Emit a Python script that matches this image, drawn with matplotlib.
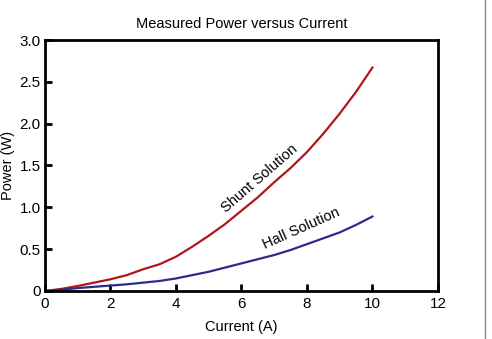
import matplotlib.pyplot as plt
from matplotlib.lines import Line2D

plt.rcParams['font.family'] = ['Liberation Sans', 'DejaVu Sans']

# Data
current = [0, 0.5, 1, 1.5, 2, 2.5, 3, 3.5, 4, 4.5, 5, 5.5, 6, 6.5, 7, 7.5, 8, 8.5, 9, 9.5, 10]
shunt_power = [0, 0.025, 0.06, 0.10, 0.14, 0.19, 0.26, 0.32, 0.41, 0.53, 0.66, 0.80,
               0.96, 1.12, 1.30, 1.47, 1.66, 1.88, 2.12, 2.38, 2.67]
hall_power = [0, 0.015, 0.035, 0.05, 0.065, 0.08, 0.10, 0.12, 0.15, 0.19, 0.23, 0.28,
              0.33, 0.38, 0.43, 0.49, 0.56, 0.63, 0.70, 0.79, 0.89]

x_ticks = [0, 2, 4, 6, 8, 10, 12]
y_ticks = [0, 0.5, 1.0, 1.5, 2.0, 2.5, 3.0]
y_tick_labels = ['0', '0.5', '1.0', '1.5', '2.0', '2.5', '3.0']

fig = plt.figure(figsize=(4.92, 3.39), dpi=100)
ax = fig.add_axes([0.0915, 0.1416, 0.7985, 0.7404])

ax.plot(current, shunt_power, color='#b0161e', lw=1.6)
ax.plot(current, hall_power, color='#2e2a8a', lw=1.6)

ax.set_xlim(0, 12)
ax.set_ylim(0, 3.0)
ax.set_xticks(x_ticks)
ax.set_yticks(y_ticks)
ax.set_yticklabels(y_tick_labels)
ax.tick_params(direction='in', length=5, width=2, labelsize=11, pad=3)
ax.tick_params(axis='x', pad=4)
for s in ax.spines.values():
    s.set_linewidth(2)

ax.set_title('Measured Power versus Current', fontsize=10.5, pad=9)
ax.set_xlabel('Current (A)', fontsize=10.5, labelpad=7)
ax.set_ylabel('Power (W)', fontsize=10.5)
ax.yaxis.set_label_coords(-0.077, 0.5)

ax.text(6.56, 1.34, 'Shunt Solution', rotation=41, fontsize=10.5,
        ha='center', va='center')
ax.text(7.82, 0.75, 'Hall Solution', rotation=24, fontsize=10.5,
        ha='center', va='center')

# thin gray border line at the right edge of the image
fig.add_artist(Line2D([485 / 492, 485 / 492], [0, 1], color='#888888', lw=1))

fig.savefig('out.png', dpi=100)
